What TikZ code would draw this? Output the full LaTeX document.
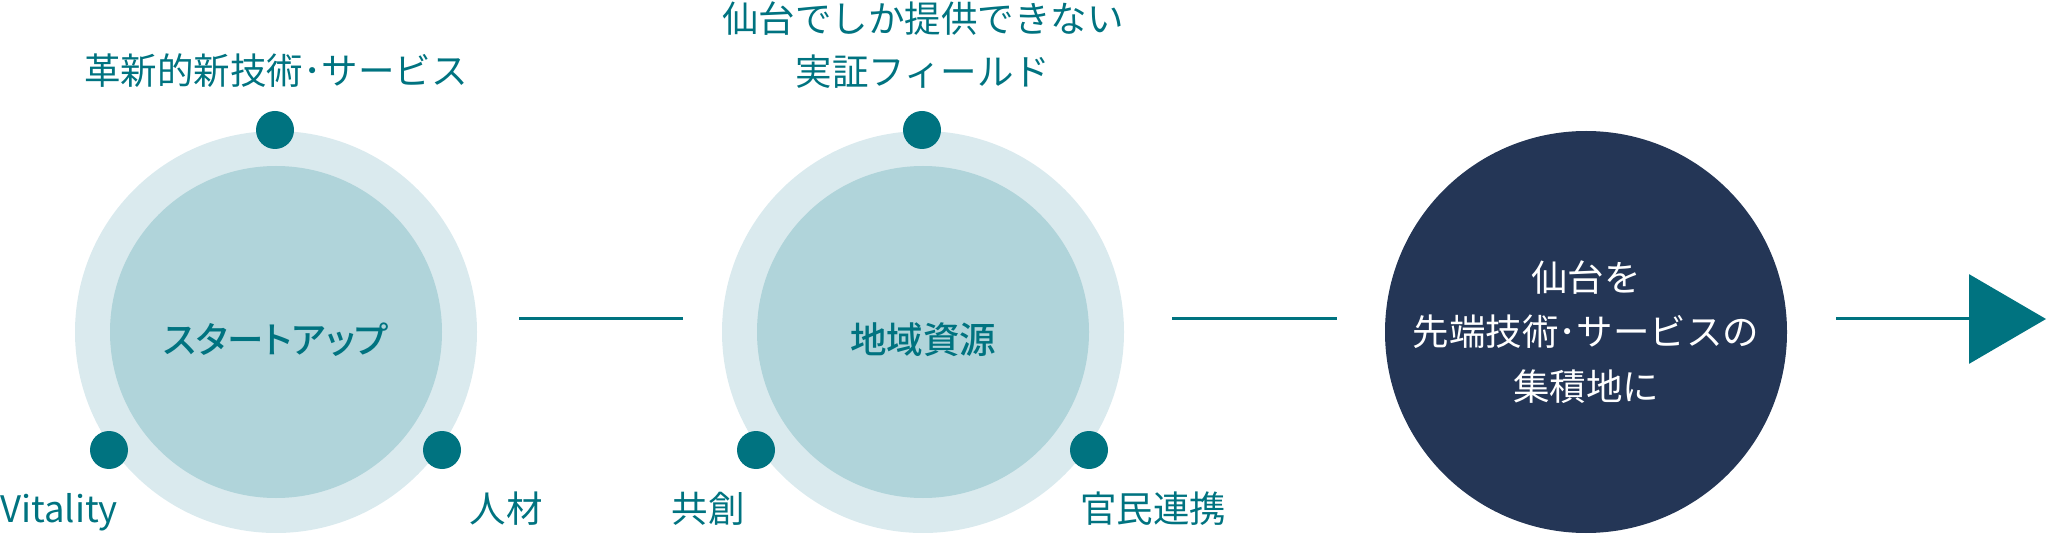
\documentclass[tikz,border=0pt]{standalone}
\usepackage{fontspec}
\newfontfamily\jp{Noto Sans CJK JP}
\newfontfamily\jpmid[RawFeature=+palt]{Noto Sans CJK JP Medium}
\usetikzlibrary{arrows.meta}
\definecolor{sdTeal}{RGB}{0,115,128}
\definecolor{sdPale}{RGB}{218,234,238}
\definecolor{sdMist}{RGB}{176,212,218}
\definecolor{sdNavy}{RGB}{36,54,86}
\begin{document}
\begin{tikzpicture}[x=1pt,y=-1pt,
  halo/.style={circle,fill=sdPale,minimum size=402pt,inner sep=0pt},
  core/.style={circle,fill=sdMist,minimum size=332pt,inner sep=0pt},
  goalnode/.style={circle,fill=sdNavy,minimum size=402pt,inner sep=0pt,text=white,align=center,font=\jp\fontsize{36.5}{54.5}\selectfont},
  knob/.style={circle,fill=sdTeal,minimum size=38pt,inner sep=0pt},
  tag/.style={text=sdTeal,inner sep=0pt,anchor=base,font=\jp\fontsize{36.5}{53}\selectfont},
  heading/.style={tag,font=\jpmid\fontsize{36.5}{42}\selectfont},
  link/.style={draw=sdTeal,line width=3pt}]

\useasboundingbox (0,0) rectangle (2047,534);

\node[halo] (start) at (276,332) {};
\node[core] (startCore) at (276,332) {};
\node[heading] (startName) at (276,353) {スタートアップ};
\node[knob] (startTop) at (275,130) {};
\node[knob] (startLeft) at (109,450) {};
\node[knob] (startRight) at (442,450) {};
\node[tag] (startTopText) at (276,85) {革新的新技術･サービス};
\node[tag,anchor=base west] (startLeftText) at (0,522) {Vitality};
\node[tag] (startRightText) at (506,522) {人材};

\node[halo] (region) at (923,332) {};
\node[core] (regionCore) at (923,332) {};
\node[heading] (regionName) at (923,353) {地域資源};
\node[knob] (regionTop) at (922,130) {};
\node[knob] (regionLeft) at (756,450) {};
\node[knob] (regionRight) at (1089,450) {};
\node[tag,anchor=center,align=center] (regionTopText) at (923,45) {仙台でしか提供できない\\実証フィールド};
\node[tag] (regionLeftText) at (708,522) {共創};
\node[tag] (regionRightText) at (1153,522) {官民連携};

\node[goalnode] (goal) at (1586,332) {仙台を\\先端技術･サービスの\\集積地に};
\coordinate (tipEnd) at (2046,319);

\draw[link,shorten <=42pt,shorten >=39pt] ([yshift=13pt]start.east) -- ([yshift=13pt]region.west);
\draw[link,shorten <=48pt,shorten >=48pt] ([yshift=13pt]region.east) -- ([yshift=13pt]goal.west);
\draw[link,shorten <=49pt,-{Triangle[length=77pt,width=89pt]}] ([yshift=13pt]goal.east) -- (tipEnd);
\end{tikzpicture}
\end{document}
